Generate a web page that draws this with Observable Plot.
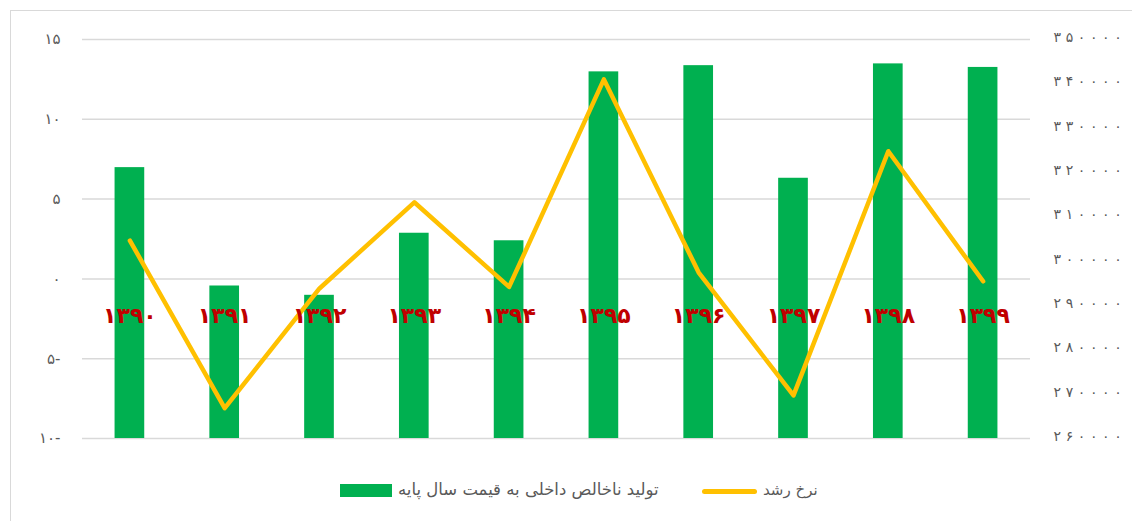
<!DOCTYPE html>
<html>
<head>
<meta charset="utf-8">
<script src="https://cdn.jsdelivr.net/npm/d3@7"></script>
<script src="https://cdn.jsdelivr.net/npm/@observablehq/plot@0.6"></script>
<style>
  html, body { margin: 0; padding: 0; background: #fff; }
  #wrap { position: relative; width: 1132px; height: 521px; overflow: hidden; font-family: "DejaVu Sans", sans-serif; }
  #frame { position: absolute; left: 10px; top: 10px; width: 1300px; height: 700px; border-left: 1.5px solid #D9D9D9; border-top: 1.5px solid #D9D9D9; }
  #chart { position: absolute; left: 0; top: 0; }
  .lg { position: absolute; color: #595959; font-size: 16.5px; line-height: 20px; white-space: nowrap; }
  .sw { position: absolute; left: 340px; top: 484px; width: 52px; height: 13px; background: #00B050; }
  .ln { position: absolute; left: 702px; top: 488.5px; width: 55px; height: 5px; border-radius: 3px; background: #FFC000; }
</style>
</head>
<body>
<div id="wrap">
  <div id="frame"></div>
  <div id="chart"></div>
  <div class="sw"></div>
  <div class="lg" id="lg1" style="left:398px; top:480px;">تولید ناخالص داخلی به قیمت سال پایه</div>
  <div class="ln"></div>
  <div class="lg" id="lg2" style="left:763px; top:480px; font-size:15px;">نرخ رشد</div>
</div>
<script>
const years = ["1390","1391","1392","1393","1394","1395","1396","1397","1398","1399"];
const gdp = [321100, 294400, 292300, 306300, 304600, 342700, 344100, 318700, 344500, 343700];
const growth = [2.4, -8.1, -0.6, 4.8, -0.5, 12.5, 0.4, -7.3, 8.0, -0.15];
const leftTicks = [-10, -5, 0, 5, 10, 15];
const rightTicks = [260000, 270000, 280000, 290000, 300000, 310000, 320000, 330000, 340000, 350000];

const faDigits = "۰۱۲۳۴۵۶۷۸۹";
const toFa = s => String(s).replace(/\d/g, d => faDigits[d]);
const fmtLeft = v => v < 0 ? toFa(-v) + "-" : toFa(v);
const spaced = s => Array.from(s).join("\u2004");
const rMin = 260000, rMax = 350000, lMin = -10, lMax = 15;
const r2l = v => (v - rMin) / (rMax - rMin) * (lMax - lMin) + lMin;
const l2r = t => Math.round(rMin + (t - lMin) / (lMax - lMin) * (rMax - rMin));

const data = years.map((y, i) => ({year: y, gdp: gdp[i], growth: growth[i]}));

const chart = Plot.plot({
  width: 1132,
  height: 470,
  marginLeft: 82,
  marginRight: 102,
  marginTop: 39,
  marginBottom: 32,
  style: {fontFamily: "DejaVu Sans, sans-serif", fontSize: "14px", color: "#595959", background: "transparent"},
  x: {type: "band", domain: years, paddingInner: 0.687, paddingOuter: 0.3435, round: false, axis: null},
  y: {domain: [lMin, lMax], axis: null},
  marks: [
    Plot.ruleY(leftTicks, {stroke: "#D9D9D9", strokeWidth: 1.5}),
    Plot.barY(data, {x: "year", y1: lMin, y2: d => r2l(d.gdp), fill: "#00B050"}),
    Plot.line(data, {x: "year", y: "growth", stroke: "#FFC000", strokeWidth: 4.5, strokeLinejoin: "round", strokeLinecap: "round"}),
    Plot.text(data, {x: "year", y: d => -2.3, text: d => toFa(d.year), fill: "#C00000", fontSize: 22, fontWeight: "bold"}),
    Plot.axisY(leftTicks, {anchor: "left", tickSize: 0, tickPadding: 22, tickFormat: fmtLeft, fontSize: 15, label: null}),
    Plot.axisY(rightTicks.map(r2l), {anchor: "right", tickSize: 0, tickPadding: 23, tickFormat: t => spaced(toFa(l2r(t))), fontSize: 14, dy: -2, label: null})
  ]
});
document.getElementById("chart").appendChild(chart);
</script>
</body>
</html>
